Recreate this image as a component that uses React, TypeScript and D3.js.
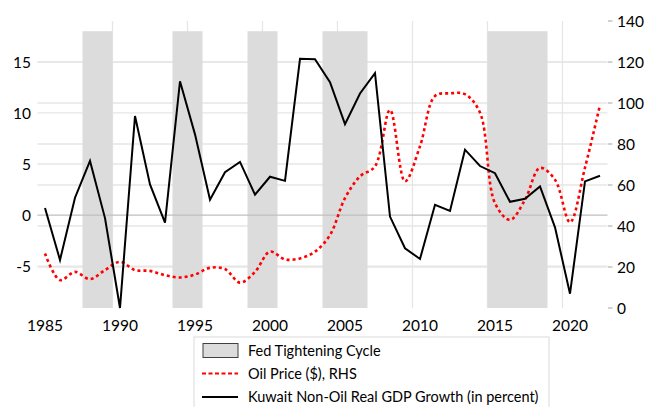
import React from "react";
import * as d3 from "d3";

const years: number[] = d3.range(1985, 2023);
const gdpGrowth: number[] = [
  0.7, -4.4, 1.7, 5.3, -0.3, -9.1, 9.7, 3.0, -0.75, 13.1,
  7.9, 1.5, 4.2, 5.2, 2.0, 3.75, 3.35, 15.3, 15.25, 13.0,
  8.9, 11.9, 13.9, -0.15, -3.25, -4.3, 1.0, 0.4, 6.4, 4.8,
  4.1, 1.3, 1.6, 2.8, -1.2, -7.7, 3.3, 3.85,
];
const oilPrice: number[] = [
  26.6, 13.6, 17.6, 14.1, 18.5, 22.5, 18.5, 18.1, 16.0, 14.9,
  16.3, 19.6, 19.0, 12.4, 17.6, 27.5, 23.7, 24.2, 27.5, 35.6,
  53.6, 64.2, 69.1, 96.6, 61.8, 78.9, 103.4, 104.7, 104.3, 95.3,
  51.1, 43.0, 52.8, 68.3, 62.6, 41.8, 68.5, 99.0,
];
const tighteningCycles: [number, number][] = [
  [1988, 1989],
  [1994, 1995],
  [1999, 2000],
  [2004, 2006],
  [2015, 2018],
];
const leftTicks: number[] = [-5, 0, 5, 10, 15];
const rightTicks: number[] = [0, 20, 40, 60, 80, 100, 120, 140];
const yearLabels: number[] = [1985, 1990, 1995, 2000, 2005, 2010, 2015, 2020];
const legendLabels: string[] = [
  "Fed Tightening Cycle",
  "Oil Price ($), RHS",
  "Kuwait Non-Oil Real GDP Growth (in percent)",
];

const W = 648;
const H = 407;
const plotLeft = 37.5;
const plotRight = 607.5;
const plotTop = 21;
const plotBottom = 308;
const FONT = "Lato, 'Open Sans', sans-serif";

export default function App() {
  const x = d3.scaleBand<number>().domain(years).range([plotLeft, plotRight]).padding(0);
  const bw = x.bandwidth();
  const cx = (yr: number) => (x(yr) as number) + bw / 2;
  const yL = d3.scaleLinear().domain([-9.1, 19]).range([plotBottom, plotTop]);
  const yR = d3.scaleLinear().domain([0, 140]).range([plotBottom, plotTop]);

  const gdpLine = d3
    .line<number>()
    .x((_, i) => cx(years[i]))
    .y((d) => yL(Math.max(d, -9.1)))(gdpGrowth) as string;
  const oilLine = d3
    .line<number>()
    .curve(d3.curveCatmullRom.alpha(0.5))
    .x((_, i) => cx(years[i]))
    .y((d) => yR(d))(oilPrice) as string;

  const barTop = 18;
  const vGridYears = yearLabels.filter((y) => y > 1985);

  return (
    <svg
      width={W}
      height={H}
      style={{ position: "absolute", left: 0, top: 0, background: "#fff" }}
    >
      {vGridYears.map((yr) => (
        <line
          key={"v" + yr}
          x1={x(yr) as number}
          x2={x(yr) as number}
          y1={plotTop}
          y2={plotBottom}
          stroke="#E6E6E6"
          strokeWidth={1.3}
        />
      ))}
      {rightTicks
        .filter((t) => t > 0 && t < 140)
        .map((t) => (
          <line
            key={"hr" + t}
            x1={plotLeft}
            x2={plotRight}
            y1={yR(t)}
            y2={yR(t)}
            stroke="#E6E6E6"
            strokeWidth={1.3}
          />
        ))}
      {leftTicks
        .filter((t) => t !== 0)
        .map((t) => (
          <line
            key={"hl" + t}
            x1={plotLeft}
            x2={plotRight}
            y1={yL(t)}
            y2={yL(t)}
            stroke="#E6E6E6"
            strokeWidth={1.3}
          />
        ))}
      {tighteningCycles.map(([a, b]) => (
        <rect
          key={"b" + a}
          x={x(a) as number}
          width={(x(b) as number) + bw - (x(a) as number)}
          y={yL(barTop)}
          height={yL(-9.1) - yL(barTop)}
          fill="#DCDCDC"
        />
      ))}
      <line
        x1={plotLeft}
        x2={plotRight}
        y1={yL(0)}
        y2={yL(0)}
        stroke="#BFBFBF"
        strokeWidth={1.3}
      />
      <path
        d={oilLine}
        fill="none"
        stroke="#FF0000"
        strokeWidth={2.6}
        strokeDasharray="3 3"
      />
      <path d={gdpLine} fill="none" stroke="#000" strokeWidth={2} strokeLinejoin="miter" />

      {leftTicks.map((t) => (
        <text
          key={"lt" + t}
          x={31}
          y={yL(t)}
          textAnchor="end"
          dominantBaseline="central"
          fontFamily={FONT}
          fontSize={15.5}
          fill="#000"
        >
          {t}
        </text>
      ))}
      {rightTicks.map((t) => (
        <g key={"rt" + t}>
          <line x1={608} x2={612.5} y1={yR(t)} y2={yR(t)} stroke="#A6A6A6" strokeWidth={1} />
          <text
            x={617}
            y={yR(t)}
            textAnchor="start"
            dominantBaseline="central"
            fontFamily={FONT}
            fontSize={15.5}
            fill="#000"
          >
            {t}
          </text>
        </g>
      ))}
      {yearLabels.map((yr) => (
        <text
          key={"x" + yr}
          x={cx(yr)}
          y={325}
          textAnchor="middle"
          dominantBaseline="central"
          fontFamily={FONT}
          fontSize={15.5}
          fill="#000"
        >
          {yr}
        </text>
      ))}

      <rect x={194} y={337} width={355} height={90} fill="#fff" stroke="#D9D9D9" strokeWidth={1} />
      <rect x={203} y={343.5} width={35} height={14} fill="#DCDCDC" stroke="#404040" strokeWidth={1} />
      <line x1={202} x2={238} y1={373.5} y2={373.5} stroke="#FF0000" strokeWidth={2} strokeDasharray="4 2.5" />
      <line x1={202} x2={238} y1={397} y2={397} stroke="#000" strokeWidth={2} />
      {legendLabels.map((lab, i) => (
        <text
          key={lab}
          x={248}
          y={[350.7, 373.5, 396.7][i]}
          dominantBaseline="central"
          fontFamily={FONT}
          fontSize={14.5}
          fill="#000"
        >
          {lab}
        </text>
      ))}
    </svg>
  );
}
